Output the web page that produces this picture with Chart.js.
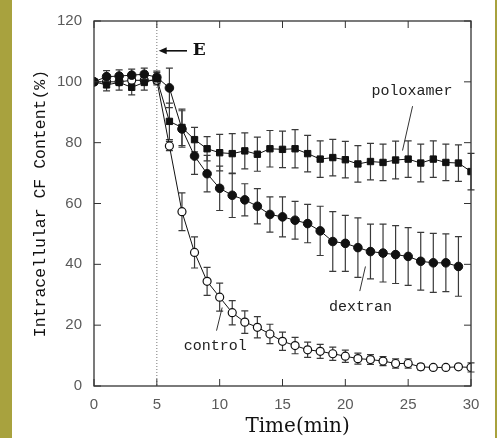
<!DOCTYPE html>
<html>
<head>
<meta charset="utf-8">
<script src="https://cdn.jsdelivr.net/npm/chart.js@4.4.1/dist/chart.umd.min.js"></script>
<style>
  html, body { margin: 0; padding: 0; background: #fff; }
  #wrap { position: relative; width: 497px; height: 438px; background: #fff; }
  #bandL { position: absolute; left: 0; top: 0; width: 12px; height: 438px; background: #a8a23e; }
  #bandR { position: absolute; left: 495px; top: 0; width: 2px; height: 438px; background: #a8a23e; }
  canvas { position: absolute; left: 0; top: 0; }
</style>
</head>
<body>
<div id="wrap">
  <canvas id="myChart" width="497" height="438"></canvas>
  <div id="bandL"></div>
  <div id="bandR"></div>
</div>
<script>
// time points (min)
const times = [0,1,2,3,4,5,6,7,8,9,10,11,12,13,14,15,16,17,18,19,20,21,22,23,24,25,26,27,28,29,30];

// intracellular CF content (%), with error bar half-widths
const poloxamer = [100, 99, 99.8, 98.2, 99.8, 101, 87, 85, 81, 78, 76.7, 76.4, 77.3, 76.2, 78.0, 77.8, 78.0, 76.4, 74.6, 75.1, 74.4, 73.0, 73.8, 73.5, 74.3, 74.6, 73.3, 74.6, 73.5, 73.3, 70.5];
const poloxamerErr = [0, 2, 2.5, 2.5, 2.5, 2, 6, 6, 4, 4, 6, 6.6, 5.9, 5.6, 6, 6, 6.3, 6, 6, 6, 6, 6, 6, 6, 6.2, 6, 6.2, 6, 6, 6, 6];

const dextran = [100, 101.7, 101.9, 102.2, 102.5, 101.5, 98, 84.5, 75.6, 69.8, 65.0, 62.7, 61.2, 59.1, 56.4, 55.6, 54.5, 53.4, 51.0, 47.5, 46.9, 45.5, 44.2, 43.7, 43.2, 42.6, 41.0, 40.5, 40.5, 39.3, null];
const dextranErr = [0, 2, 2, 2, 2, 2, 6.5, 6, 6, 6, 7.3, 7.3, 5.3, 5.8, 5.8, 6.6, 6.2, 6.3, 8.1, 9.8, 9.2, 9.8, 9, 9.5, 9.5, 9.5, 9.5, 9.7, 9.5, 9.8, null];

const control = [100, 100, 100, 100.5, 100.5, 100.5, 78.9, 57.3, 43.9, 34.4, 29.2, 24.1, 21.0, 19.3, 17.1, 14.7, 13.3, 11.9, 11.4, 10.6, 9.8, 9.0, 8.7, 8.2, 7.4, 7.4, 6.3, 6.1, 6.1, 6.3, 6.1];
const controlErr = [0, 1, 1, 1, 1, 1, 1.5, 6.2, 5.1, 4.6, 4.6, 4.0, 3.7, 3.5, 3.2, 3, 2.7, 2.5, 2.3, 2.2, 2, 1.8, 1.6, 1.5, 1.5, 1.5, 1, 0.5, 0.5, 0.5, 1.5];

const xTicks = [0, 5, 10, 15, 20, 25, 30];
const yTicks = [0, 20, 40, 60, 80, 100, 120];

// series labels: [text, textX, textY, leaderFromX, leaderFromY, leaderToX, leaderToY]
const seriesLabels = [
    ['poloxamer', 25.3, 96.9, 25.35, 92.0, 24.55, 77.4],
    ['dextran', 21.2, 26.0, 21.6, 39.3, 21.15, 31.2],
    ['control', 9.65, 13.0, 10.2, 25.8, 9.75, 18.2]
];
const addTime = 5;
const xTitle = 'Time(min)';

function pts(values) {
    const out = [];
    for (let i = 0; i < times.length; i++) {
        if (values[i] !== null) out.push({x: times[i], y: values[i]});
    }
    return out;
}

const errorBars = {
    id: 'errorBars',
    beforeDatasetsDraw(chart) {
        const {ctx, scales: {x, y}} = chart;
        ctx.save();
        // dotted line where E was added
        ctx.strokeStyle = '#777';
        ctx.lineWidth = 1;
        ctx.setLineDash([1, 2]);
        const px = x.getPixelForValue(addTime);
        ctx.beginPath();
        ctx.moveTo(px, y.getPixelForValue(120));
        ctx.lineTo(px, y.getPixelForValue(0));
        ctx.stroke();
        ctx.setLineDash([]);

        const sets = [[control, controlErr], [dextran, dextranErr], [poloxamer, poloxamerErr]];
        ctx.strokeStyle = '#3a3a3a';
        ctx.lineWidth = 1.2;
        for (const [vals, errs] of sets) {
            for (let i = 0; i < times.length; i++) {
                if (vals[i] === null || !errs[i]) continue;
                const cx = x.getPixelForValue(times[i]);
                const top = y.getPixelForValue(vals[i] + errs[i]);
                const bot = y.getPixelForValue(vals[i] - errs[i]);
                ctx.beginPath();
                ctx.moveTo(cx, top); ctx.lineTo(cx, bot);
                ctx.moveTo(cx - 3.5, top); ctx.lineTo(cx + 3.5, top);
                ctx.moveTo(cx - 3.5, bot); ctx.lineTo(cx + 3.5, bot);
                ctx.stroke();
            }
        }
        ctx.restore();
    },
    afterDraw(chart) {
        const {ctx, chartArea: a, scales: {x, y}} = chart;
        ctx.save();
        // frame and inside ticks
        ctx.strokeStyle = '#333';
        ctx.lineWidth = 1.3;
        ctx.strokeRect(a.left, a.top, a.right - a.left, a.bottom - a.top);
        ctx.lineWidth = 1;
        ctx.beginPath();
        for (const t of xTicks) {
            const px = x.getPixelForValue(t);
            ctx.moveTo(px, a.bottom); ctx.lineTo(px, a.bottom - 7);
            ctx.moveTo(px, a.top); ctx.lineTo(px, a.top + 7);
        }
        for (const v of yTicks) {
            const py = y.getPixelForValue(v);
            ctx.moveTo(a.left, py); ctx.lineTo(a.left + 7, py);
            ctx.moveTo(a.right, py); ctx.lineTo(a.right - 7, py);
        }
        ctx.stroke();

        // x axis title, sitting a little right of centre as in the original
        ctx.fillStyle = '#111';
        ctx.font = '20px "DejaVu Serif"';
        ctx.textAlign = 'center';
        ctx.textBaseline = 'middle';
        ctx.fillText(xTitle, x.getPixelForValue(16.2), 427);

        // arrow with E
        ctx.strokeStyle = '#111';
        ctx.lineWidth = 1.6;
        const ay = y.getPixelForValue(110.2);
        const ax0 = x.getPixelForValue(5.15);
        const ax1 = x.getPixelForValue(7.4);
        ctx.beginPath();
        ctx.moveTo(ax0 + 6, ay); ctx.lineTo(ax1, ay);
        ctx.stroke();
        ctx.beginPath();
        ctx.moveTo(ax0, ay); ctx.lineTo(ax0 + 8, ay - 3.5); ctx.lineTo(ax0 + 8, ay + 3.5);
        ctx.closePath();
        ctx.fill();
        ctx.font = 'bold 17px "DejaVu Serif"';
        ctx.textAlign = 'left';
        ctx.fillText('E', x.getPixelForValue(7.85), ay);

        // series labels with leader lines
        ctx.font = '15px "Liberation Mono"';
        ctx.textAlign = 'center';
        ctx.fillStyle = '#222';
        ctx.strokeStyle = '#333';
        ctx.lineWidth = 1;
        for (const [txt, tx, ty, lx0, ly0, lx1, ly1] of seriesLabels) {
            ctx.fillText(txt, x.getPixelForValue(tx), y.getPixelForValue(ty));
            ctx.beginPath();
            ctx.moveTo(x.getPixelForValue(lx0), y.getPixelForValue(ly0));
            ctx.lineTo(x.getPixelForValue(lx1), y.getPixelForValue(ly1));
            ctx.stroke();
        }
        ctx.restore();
    }
};

const ctx = document.getElementById('myChart');
new Chart(ctx, {
    type: 'line',
    data: {
        datasets: [
            {
                label: 'control',
                data: pts(control),
                borderColor: '#111',
                borderWidth: 1,
                pointStyle: 'circle',
                pointRadius: 4,
                pointBackgroundColor: '#fff',
                pointBorderColor: '#111',
                pointBorderWidth: 1.2,
                order: 3
            },
            {
                label: 'dextran',
                data: pts(dextran),
                borderColor: '#111',
                borderWidth: 1,
                pointStyle: 'circle',
                pointRadius: 4.3,
                pointBackgroundColor: '#111',
                pointBorderColor: '#111',
                order: 2
            },
            {
                label: 'poloxamer',
                data: pts(poloxamer),
                borderColor: '#111',
                borderWidth: 1,
                pointStyle: 'rect',
                pointRadius: 4.5,
                pointBackgroundColor: '#111',
                pointBorderColor: '#111',
                order: 1
            }
        ]
    },
    options: {
        responsive: false,
        animation: false,
        layout: {padding: {left: 0, right: 26, top: 17, bottom: 0}},
        plugins: {legend: {display: false}, tooltip: {enabled: false}},
        scales: {
            x: {
                type: 'linear',
                min: 0,
                max: 30,
                afterFit: s => { s.height = 52; },
                afterBuildTicks: s => { s.ticks = xTicks.map(v => ({value: v})); },
                grid: {display: false, drawTicks: false},
                border: {display: false},
                ticks: {padding: 10, color: '#5a5a5a', font: {family: 'Liberation Sans', size: 15}}
            },
            y: {
                min: 0,
                max: 120,
                afterFit: s => { s.width = 94; },
                afterBuildTicks: s => { s.ticks = yTicks.map(v => ({value: v})); },
                grid: {display: false, drawTicks: false},
                border: {display: false},
                ticks: {padding: 12, color: '#5a5a5a', font: {family: 'Liberation Sans', size: 15}},
                title: {
                    display: true,
                    text: 'Intracellular CF Content(%)',
                    color: '#111',
                    font: {family: 'Liberation Mono', size: 16.5, lineHeight: 1.2},
                    padding: {top: 31, bottom: 0}
                }
            }
        }
    },
    plugins: [errorBars]
});
</script>
</body>
</html>
